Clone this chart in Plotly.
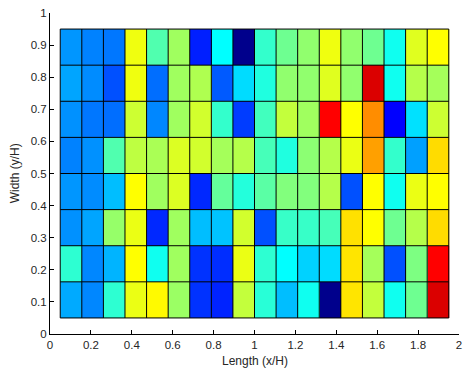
import numpy as np
import plotly.graph_objects as go

# Cell grid: 18 columns along the length, 8 rows across the width
x_edges = np.linspace(0.05, 1.95, 19)
y_edges = np.linspace(0.05, 0.95, 9)

# Normalised cell values, rows listed from bottom (y≈0.1) to top (y≈0.9)
row_01 = [0.292, 0.257, 0.419, 0.605, 0.630, 0.527, 0.174, 0.159, 0.566, 0.414, 0.311, 0.390, 0.012, 0.650, 0.566, 0.390, 0.483, 0.910]
row_02 = [0.419, 0.257, 0.301, 0.625, 0.390, 0.532, 0.174, 0.169, 0.605, 0.419, 0.375, 0.331, 0.341, 0.650, 0.537, 0.203, 0.498, 0.875]
row_03 = [0.267, 0.287, 0.522, 0.605, 0.164, 0.532, 0.311, 0.316, 0.581, 0.203, 0.429, 0.429, 0.444, 0.654, 0.625, 0.483, 0.552, 0.659]
row_04 = [0.272, 0.262, 0.311, 0.625, 0.532, 0.591, 0.164, 0.473, 0.409, 0.463, 0.502, 0.502, 0.552, 0.203, 0.625, 0.390, 0.605, 0.625]
row_05 = [0.252, 0.267, 0.453, 0.561, 0.542, 0.591, 0.581, 0.537, 0.552, 0.444, 0.405, 0.512, 0.552, 0.605, 0.718, 0.425, 0.282, 0.659]
row_06 = [0.267, 0.242, 0.233, 0.576, 0.257, 0.532, 0.581, 0.425, 0.184, 0.439, 0.566, 0.532, 0.875, 0.625, 0.737, 0.125, 0.346, 0.576]
row_07 = [0.287, 0.262, 0.203, 0.610, 0.233, 0.532, 0.547, 0.213, 0.341, 0.405, 0.517, 0.517, 0.595, 0.517, 0.910, 0.390, 0.552, 0.537]
row_08 = [0.272, 0.252, 0.242, 0.610, 0.453, 0.532, 0.155, 0.375, 0.012, 0.425, 0.483, 0.517, 0.610, 0.517, 0.483, 0.390, 0.595, 0.625]

z = [row_01, row_02, row_03, row_04, row_05, row_06, row_07, row_08]

x_ticks = [0, 0.2, 0.4, 0.6, 0.8, 1, 1.2, 1.4, 1.6, 1.8, 2]
y_ticks = [0, 0.1, 0.2, 0.3, 0.4, 0.5, 0.6, 0.7, 0.8, 0.9, 1]

# Jet colormap
jet = [
    [0.0, "rgb(0,0,128)"],
    [0.125, "rgb(0,0,255)"],
    [0.375, "rgb(0,255,255)"],
    [0.625, "rgb(255,255,0)"],
    [0.875, "rgb(255,0,0)"],
    [1.0, "rgb(128,0,0)"],
]

fig = go.Figure()
fig.add_trace(go.Heatmap(
    x=x_edges, y=y_edges, z=z,
    colorscale=jet, zmin=0, zmax=1,
    showscale=False, hoverinfo="skip",
))

# Black cell borders
gx, gy = [], []
for xe in x_edges:
    gx += [xe, xe, None]
    gy += [y_edges[0], y_edges[-1], None]
for ye in y_edges:
    gx += [x_edges[0], x_edges[-1], None]
    gy += [ye, ye, None]
fig.add_trace(go.Scatter(
    x=gx, y=gy, mode="lines",
    line=dict(color="black", width=1),
    hoverinfo="skip", showlegend=False,
))

tick_font = dict(family="Liberation Sans, Arial, sans-serif", size=11.5, color="#262626")
title_font = dict(family="Liberation Sans, Arial, sans-serif", size=12, color="#262626")

fig.update_layout(
    width=467, height=373,
    margin=dict(l=50, r=8, t=13, b=39),
    paper_bgcolor="white", plot_bgcolor="white",
    font=tick_font,
    showlegend=False,
    annotations=[
        dict(text="Length (x/H)", xref="paper", yref="paper", x=0.5, y=-0.083,
             xanchor="center", yanchor="middle", showarrow=False, font=title_font),
        dict(text="Width (y/H)", xref="paper", yref="paper", x=-0.086, y=0.5,
             xanchor="center", yanchor="middle", textangle=-90, showarrow=False,
             font=title_font),
    ],
)
fig.update_xaxes(
    range=[0, 2], tickvals=x_ticks, ticktext=[f"{t:g}" for t in x_ticks],
    ticks="inside", ticklen=4, tickcolor="black", tickfont=tick_font,
    showline=True, linecolor="black", linewidth=1, mirror=False,
    showgrid=False, zeroline=False, automargin=False,
)
fig.update_yaxes(
    range=[0, 1], tickvals=y_ticks, ticktext=[f"{t:g}" for t in y_ticks],
    ticks="inside", ticklen=4, tickcolor="black", tickfont=tick_font,
    showline=True, linecolor="black", linewidth=1, mirror=False,
    showgrid=False, zeroline=False, automargin=False,
)

fig.write_html("out.html")
